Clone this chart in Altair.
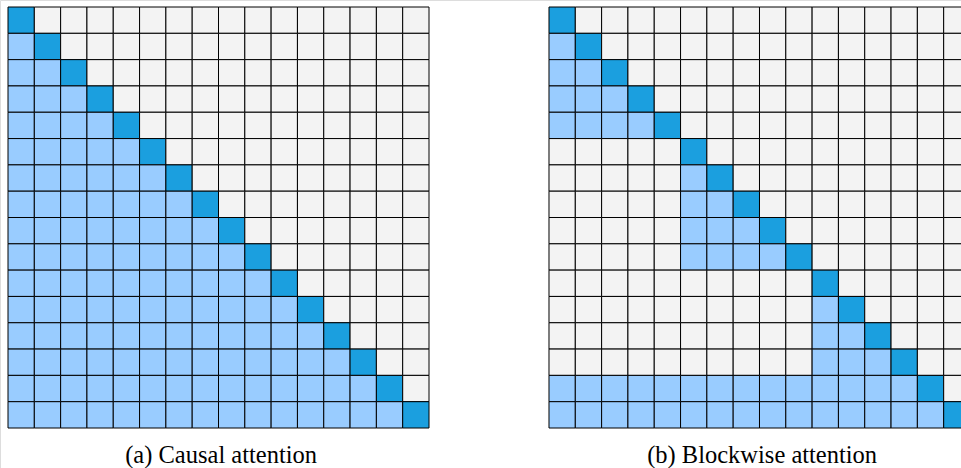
import altair as alt
import pandas as pd

# Grid definition
N_TOKENS = 16
PANEL_GAP = 4.56          # gap between the two grids, in cell units
BLOCK_SIZES = [5, 5, 4]   # local blocks for blockwise attention
N_GLOBAL_ROWS = 2         # trailing rows that attend to every earlier token
CAPTIONS = ["(a) Causal attention", "(b) Blockwise attention"]

STATES = ["self", "attend", "masked"]
COLORS = ["#1B9FDF", "#99CCFF", "#F3F3F3"]


def causal_state(r, c):
    if r == c:
        return "self"
    return "attend" if c < r else "masked"


def blockwise_state(r, c):
    if r == c:
        return "self"
    if c > r:
        return "masked"
    if r >= N_TOKENS - N_GLOBAL_ROWS:
        return "attend"
    start = 0
    for size in BLOCK_SIZES:
        if start <= r < start + size:
            return "attend" if c >= start else "masked"
        start += size
    return "masked"


rows = []
offsets = [0.0, N_TOKENS + PANEL_GAP]
for panel, (offset, fn) in enumerate(zip(offsets, [causal_state, blockwise_state])):
    for r in range(N_TOKENS):
        for c in range(N_TOKENS):
            rows.append({
                "panel": panel,
                "x0": offset + c, "x1": offset + c + 1,
                "y0": r, "y1": r + 1,
                "state": fn(r, c),
            })
cells = pd.DataFrame(rows)

captions = pd.DataFrame({
    "label": CAPTIONS,
    "xc": [o + N_TOKENS / 2 + 0.1 for o in offsets],
    "yc": [N_TOKENS + 1.33, N_TOKENS + 1.33],
})

CELL = 421 / N_TOKENS
x_scale = alt.Scale(domain=[-8 / CELL, (961 - 8) / CELL], nice=False, zero=False)
y_scale = alt.Scale(domain=[-7 / CELL, (468 - 7) / CELL], nice=False, zero=False, reverse=True)

grid = alt.Chart(cells).mark_rect(stroke="#000000", strokeWidth=1).encode(
    x=alt.X("x0:Q", scale=x_scale, axis=None),
    x2="x1:Q",
    y=alt.Y("y0:Q", scale=y_scale, axis=None),
    y2="y1:Q",
    color=alt.Color("state:N", scale=alt.Scale(domain=STATES, range=COLORS), legend=None),
)

labels = alt.Chart(captions).mark_text(
    font="Liberation Serif", fontSize=24.5, color="#000000",
    align="center", baseline="alphabetic",
).encode(
    x=alt.X("xc:Q", scale=x_scale, axis=None),
    y=alt.Y("yc:Q", scale=y_scale, axis=None),
    text="label:N",
)

chart = alt.layer(grid, labels).properties(
    width=961, height=468,
    autosize=alt.AutoSizeParams(type="none"),
    padding=0,
).configure_view(stroke=None, clip=True).configure(background="#FFFFFF")

chart.save("out.html", embed_options={"renderer": "svg", "actions": False})
